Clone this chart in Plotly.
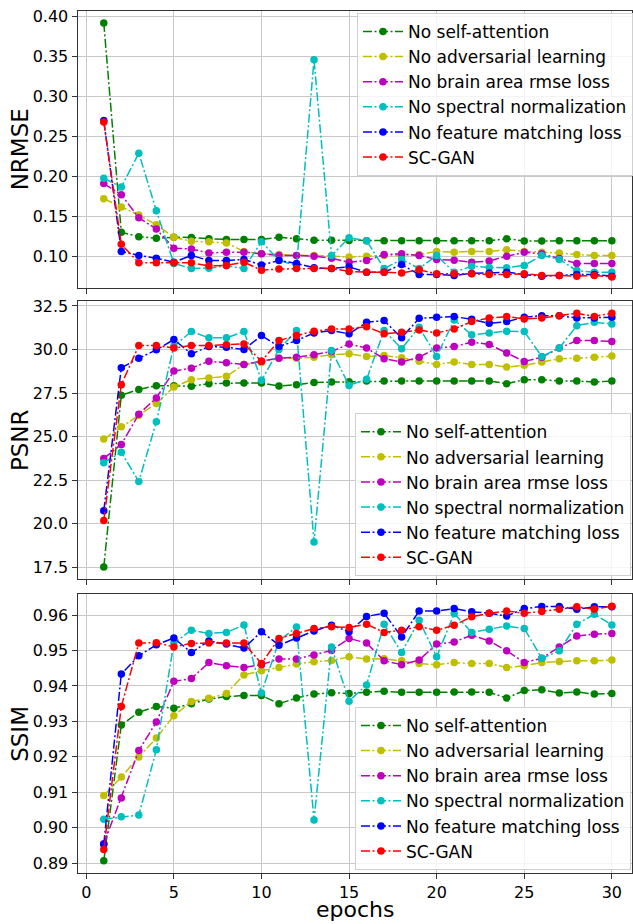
import plotly.graph_objects as go

# Training epochs
epochs = list(range(1, 31))

# Series names and matplotlib-style colours
names = ["No self-attention", "No adversarial learning", "No brain area rmse loss",
         "No spectral normalization", "No feature matching loss", "SC-GAN"]
colors = ["#008000", "#bfbf00", "#bf00bf", "#00bfbf", "#0000ff", "#ff0000"]

# NRMSE per epoch
nrmse_no_sa = [0.392, 0.130, 0.1245, 0.1224, 0.1237, 0.1235, 0.122, 0.121, 0.121, 0.121,
               0.1237, 0.122, 0.120, 0.120, 0.1198, 0.1195, 0.1195, 0.1195, 0.1195, 0.1195,
               0.1195, 0.1195, 0.1195, 0.122, 0.119, 0.119, 0.1195, 0.1195, 0.1195, 0.1195]
nrmse_no_adv = [0.172, 0.1615, 0.1515, 0.1395, 0.1237, 0.1187, 0.118, 0.1166, 0.106, 0.103,
                0.102, 0.101, 0.101, 0.100, 0.099, 0.100, 0.101, 0.101, 0.102, 0.106,
                0.105, 0.106, 0.106, 0.108, 0.106, 0.105, 0.104, 0.102, 0.101, 0.101]
nrmse_no_brain = [0.191, 0.177, 0.148, 0.134, 0.110, 0.109, 0.104, 0.105, 0.105, 0.103,
                  0.101, 0.101, 0.100, 0.0975, 0.0925, 0.0946, 0.102, 0.103, 0.101, 0.096,
                  0.095, 0.0925, 0.094, 0.100, 0.105, 0.103, 0.097, 0.091, 0.091, 0.091]
nrmse_no_sn = [0.1977, 0.1865, 0.229, 0.157, 0.091, 0.0846, 0.085, 0.088, 0.0846, 0.118,
               0.095, 0.088, 0.346, 0.1008, 0.123, 0.1195, 0.0846, 0.096, 0.0846, 0.1008,
               0.080, 0.0875, 0.086, 0.0855, 0.0885, 0.101, 0.096, 0.082, 0.080, 0.080]
nrmse_no_fm = [0.270, 0.106, 0.101, 0.0975, 0.0925, 0.101, 0.0946, 0.0946, 0.096, 0.089,
               0.0946, 0.091, 0.0855, 0.0846, 0.0867, 0.080, 0.080, 0.0896, 0.0771, 0.0771,
               0.076, 0.0785, 0.079, 0.080, 0.0771, 0.075, 0.076, 0.0771, 0.0771, 0.075]
nrmse_scgan = [0.268, 0.115, 0.0917, 0.0917, 0.0917, 0.0917, 0.088, 0.0885, 0.0925, 0.0825,
               0.084, 0.0846, 0.0846, 0.0846, 0.081, 0.080, 0.080, 0.079, 0.083, 0.078,
               0.078, 0.078, 0.077, 0.077, 0.078, 0.076, 0.076, 0.075, 0.076, 0.074]

# PSNR per epoch
psnr_no_sa = [17.52, 27.37, 27.71, 27.92, 27.92, 27.89, 28.04, 28.08, 28.08, 28.08,
              27.9, 27.98, 28.1, 28.13, 28.15, 28.19, 28.19, 28.19, 28.19, 28.19,
              28.19, 28.19, 28.19, 28.04, 28.27, 28.27, 28.19, 28.19, 28.13, 28.19]
psnr_no_adv = [24.86, 25.56, 26.23, 26.9, 27.85, 28.27, 28.36, 28.46, 29.14, 29.26,
               29.5, 29.5, 29.56, 29.7, 29.75, 29.6, 29.65, 29.52, 29.33, 29.14,
               29.28, 29.14, 29.14, 28.99, 29.09, 29.28, 29.47, 29.5, 29.56, 29.62]
psnr_no_brain = [23.75, 24.55, 26.29, 27.22, 28.76, 28.93, 29.33, 29.24, 29.14, 29.33,
                 29.5, 29.56, 29.7, 29.89, 30.32, 30.08, 29.47, 29.28, 29.56, 30.08,
                 30.17, 30.42, 30.29, 29.8, 29.31, 29.56, 30.08, 30.51, 30.51, 30.46]
psnr_no_sn = [23.5, 24.1, 22.42, 25.85, 30.2, 31.03, 30.67, 30.67, 31.03, 28.23,
              30.0, 31.09, 18.95, 29.94, 27.94, 28.29, 31.09, 30.04, 31.28, 29.6,
              31.7, 30.84, 30.95, 31.05, 31.03, 29.6, 30.08, 31.37, 31.56, 31.47]
psnr_no_fm = [20.74, 28.95, 29.5, 29.98, 30.57, 29.75, 30.17, 30.13, 30.0, 30.8,
              30.17, 30.51, 30.95, 31.09, 30.9, 31.56, 31.66, 30.67, 31.79, 31.85,
              31.89, 31.73, 31.5, 31.6, 31.85, 31.94, 31.94, 31.81, 31.81, 31.85]
psnr_scgan = [20.19, 27.98, 30.23, 30.23, 30.08, 30.23, 30.23, 30.27, 30.32, 29.33,
              30.51, 30.8, 31.05, 31.18, 31.18, 31.31, 30.9, 30.99, 31.12, 30.95,
              31.18, 31.6, 31.81, 31.89, 31.75, 31.81, 31.94, 32.08, 31.9, 32.08]

# SSIM per epoch
ssim_no_sa = [0.8907, 0.929, 0.9326, 0.9342, 0.9337, 0.935, 0.9363, 0.937, 0.9373, 0.9373,
              0.935, 0.9366, 0.9377, 0.9381, 0.9379, 0.9382, 0.9385, 0.9382, 0.9382, 0.9382,
              0.9383, 0.9383, 0.9382, 0.9366, 0.9387, 0.9389, 0.938, 0.9383, 0.9377, 0.9379]
ssim_no_adv = [0.9091, 0.9143, 0.920, 0.9253, 0.9316, 0.9356, 0.9365, 0.9379, 0.9431, 0.9443,
               0.9452, 0.9462, 0.9468, 0.9472, 0.9482, 0.9476, 0.9477, 0.9471, 0.9463, 0.946,
               0.9466, 0.9463, 0.9463, 0.9452, 0.9457, 0.9466, 0.9469, 0.9471, 0.9471, 0.9473]
ssim_no_brain = [0.8955, 0.9084, 0.9218, 0.9298, 0.9413, 0.9421, 0.9466, 0.9457, 0.9452, 0.946,
                 0.9476, 0.9476, 0.9487, 0.9500, 0.9534, 0.9521, 0.9471, 0.946, 0.9473, 0.9518,
                 0.9524, 0.9543, 0.9527, 0.9499, 0.9466, 0.9478, 0.951, 0.9541, 0.9546, 0.9548]
ssim_no_sn = [0.9024, 0.9031, 0.9036, 0.922, 0.9521, 0.9557, 0.9548, 0.9551, 0.9572, 0.938,
              0.9527, 0.9566, 0.9022, 0.951, 0.9357, 0.9403, 0.9574, 0.9494, 0.9585, 0.9482,
              0.9604, 0.9551, 0.956, 0.9569, 0.9562, 0.9478, 0.9499, 0.9574, 0.9602, 0.9572]
ssim_no_fm = [0.8954, 0.9434, 0.9485, 0.9516, 0.9535, 0.9494, 0.9527, 0.9518, 0.9507, 0.9553,
              0.9515, 0.9535, 0.9555, 0.9571, 0.9553, 0.9596, 0.9605, 0.9538, 0.9611, 0.9611,
              0.9618, 0.9609, 0.9605, 0.9597, 0.9618, 0.9624, 0.9624, 0.9616, 0.9623, 0.9623]
ssim_scgan = [0.8939, 0.9342, 0.9521, 0.9522, 0.951, 0.952, 0.9521, 0.9521, 0.9521, 0.9463,
              0.9534, 0.9548, 0.9562, 0.9567, 0.9565, 0.9574, 0.9551, 0.9557, 0.9567, 0.9557,
              0.9571, 0.9595, 0.9605, 0.9611, 0.9605, 0.961, 0.9616, 0.9623, 0.9616, 0.9625]

panels = [
    ("NRMSE", [nrmse_no_sa, nrmse_no_adv, nrmse_no_brain, nrmse_no_sn, nrmse_no_fm, nrmse_scgan],
     [0.10, 0.15, 0.20, 0.25, 0.30, 0.35, 0.40], ".2f", [0.0605, 0.407]),
    ("PSNR", [psnr_no_sa, psnr_no_adv, psnr_no_brain, psnr_no_sn, psnr_no_fm, psnr_scgan],
     [17.5, 20.0, 22.5, 25.0, 27.5, 30.0, 32.5], ".1f", [16.8, 32.8]),
    ("SSIM", [ssim_no_sa, ssim_no_adv, ssim_no_brain, ssim_no_sn, ssim_no_fm, ssim_scgan],
     [0.89, 0.90, 0.91, 0.92, 0.93, 0.94, 0.95, 0.96], ".2f", [0.8872, 0.9658]),
]

W, H = 633, 924
FONT = "DejaVu Sans"
# Panel extents in pixels (top, bottom)
panel_px = [(7, 285), (298, 578), (593, 873)]
x_left, x_right = 77.5, 632
legend_pos_px = [(357, 9), (355, 411), (355, 706)]

fig = go.Figure()
layout = dict(
    width=W, height=H,
    margin=dict(l=0, r=0, t=0, b=0),
    paper_bgcolor="white", plot_bgcolor="white",
    font=dict(family=FONT, size=16, color="black"),
    annotations=[],
)

for i, (label, series, ticks, fmt, yr) in enumerate(panels):
    n = i + 1
    xa = "x" if n == 1 else f"x{n}"
    ya = "y" if n == 1 else f"y{n}"
    lg = "legend" if n == 1 else f"legend{n}"
    for name, col, vals in zip(names, colors, series):
        fig.add_trace(go.Scatter(
            x=epochs, y=vals, name=name, mode="lines+markers",
            line=dict(color=col, width=1.5, dash="9px,2.5px,2px,2.5px"),
            marker=dict(color=col, size=7.5),
            xaxis=xa, yaxis=ya, legend=lg,
        ))
    top, bot = panel_px[i]
    axis_common = dict(
        showline=True, linecolor="#333333", linewidth=1, mirror=True,
        showgrid=True, gridcolor="#c8c8c8", gridwidth=1,
        ticks="outside", ticklen=5, tickcolor="#333333",
        tickfont=dict(family=FONT, size=16, color="black"),
        zeroline=False,
    )
    layout["xaxis" if n == 1 else f"xaxis{n}"] = dict(
        axis_common, domain=[x_left / W, x_right / W], anchor=ya,
        range=[-0.5, 31.15], tickvals=[0, 5, 10, 15, 20, 25, 30],
        showticklabels=(n == 3),
        **({} if n == 1 else {"matches": "x"}),
    )
    layout["yaxis" if n == 1 else f"yaxis{n}"] = dict(
        axis_common, domain=[1 - bot / H, 1 - top / H], anchor=xa,
        range=yr, tickvals=ticks, tickformat=fmt,
    )
    lx, ly = legend_pos_px[i]
    layout[lg] = dict(
        x=lx / W, y=1 - ly / H, xanchor="left", yanchor="top",
        bgcolor="rgba(255,255,255,0.8)", bordercolor="#d0d0d0", borderwidth=1,
        font=dict(family=FONT, size=17, color="black"), itemwidth=40,
    )
    layout["annotations"].append(dict(
        text=label, x=20 / W, y=1 - (top + bot) / 2 / H, xref="paper", yref="paper",
        textangle=-90, showarrow=False, font=dict(family=FONT, size=23, color="black"),
        xanchor="center", yanchor="middle",
    ))

# Shared x-axis title, pinned to the bottom edge of the page
layout["annotations"].append(dict(
    text="epochs", x=(x_left + x_right) / 2 / W, y=1 / H, xref="paper", yref="paper",
    showarrow=False, font=dict(family=FONT, size=22, color="black"),
    xanchor="center", yanchor="bottom", borderpad=0,
))

fig.update_layout(**layout)
fig.write_html("out.html")
